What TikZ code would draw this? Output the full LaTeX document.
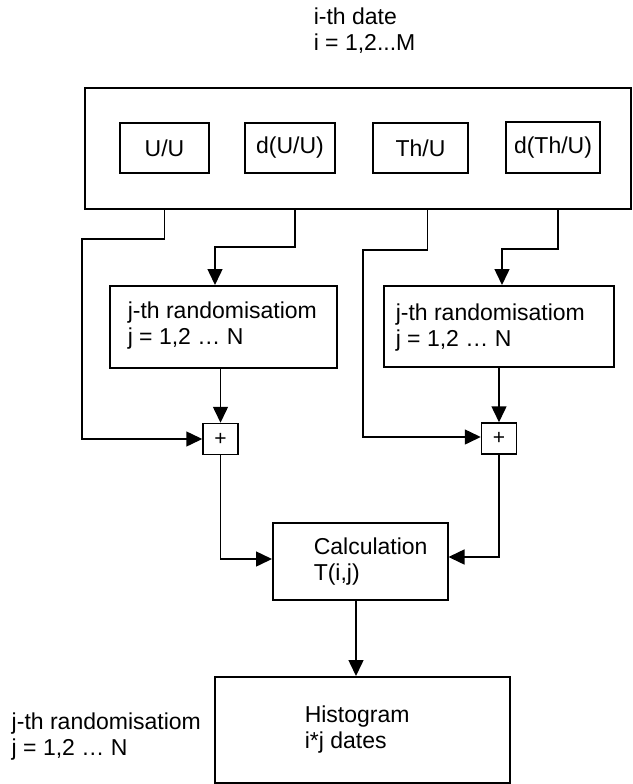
\documentclass[tikz,border=0pt]{standalone}
\usepackage{fontspec}
\setmainfont{Liberation Sans}
\usetikzlibrary{arrows.meta}
\begin{document}
\begin{tikzpicture}[x=1pt,y=-1pt,
  line width=1.5pt,
  box/.style={draw, line width=1.5pt, inner sep=0pt, anchor=north west},
  txt/.style={font=\fontsize{23}{26}\selectfont, align=left, inner sep=0pt, anchor=west},
  plusbox/.style={draw, line width=1.5pt, inner sep=0pt, minimum width=35pt, minimum height=31pt, font=\fontsize{21}{22}\selectfont},
  arr/.style={-{Triangle[length=16pt,width=15pt]}, line width=1.5pt}
]
\useasboundingbox (0,0) rectangle (632,784);
\fill[white] (0,0) rectangle (632,784);

% top label
\node[txt] (top) at (313,31) {i-th date\\i = 1,2...M};

% outer box with inner boxes
\node[box, minimum width=546pt, minimum height=121pt] (outer) at (84,87) {};
\node[box, minimum width=89pt, minimum height=50pt, anchor=center, font=\fontsize{23}{26}\selectfont] (uu) at (164.5,148) {U/U};
\node[box, minimum width=90pt, minimum height=50pt, anchor=center, font=\fontsize{23}{26}\selectfont] (duu) at (290,148) {d(U/U)};
\node[box, minimum width=95pt, minimum height=50pt, anchor=center, font=\fontsize{23}{26}\selectfont] (thu) at (420.5,148) {Th/U};
\node[box, minimum width=94pt, minimum height=51pt, anchor=center, font=\fontsize{23}{26}\selectfont] (dthu) at (553,147.5) {d(Th/U)};

% randomisation boxes
\node[box, minimum width=227pt, minimum height=82pt] (rand1) at (109,285) {};
\node[txt] (rand1t) at (127,326) {j-th randomisatiom\\j = 1,2 \dots\ N};
\node[box, minimum width=230pt, minimum height=81pt] (rand2) at (383,285) {};
\node[txt] (rand2t) at (395,328) {j-th randomisatiom\\j = 1,2 \dots\ N};

% plus boxes
\node[plusbox] (p1) at (220.5,439) {+};
\node[plusbox] (p2) at (499,438.5) {+};

% calculation
\node[box, minimum width=175pt, minimum height=77pt] (calc) at (272,522) {};
\node[txt] (calct) at (313,562) {Calculation\\T(i,j)};

% histogram
\node[box, minimum width=295pt, minimum height=106pt] (hist) at (214,676) {};
\node[txt] (histt) at (304,730) {Histogram\\i*j dates};

% side label
\node[txt] (side) at (11,737) {j-th randomisatiom\\j = 1,2 \dots\ N};

% connector waypoints
\coordinate (o1) at (164.5,208);
\coordinate (o2) at (295,208);
\coordinate (o3) at (427.5,208);
\coordinate (o4) at (558,208);

\draw[arr] (o1) -- (164.5,239) -- (82,239) -- (82,439) -- (p1.west);
\draw[arr] (o2) -- (295,247) -- (215,247) -- (215,285);
\draw[arr] (o3) -- (427.5,250) -- (363,250) -- (363,437) -- (p2.west |- 0,437);
\draw[arr] (o4) -- (558,249) -- (502,249) -- (502,285);

\draw[arr] (220.5,367) -- (p1.north);
\draw[arr] (499,366) -- (p2.north);

\draw[arr] (p1.south) -- (220.5,559) -- (calc.west |- 0,559);
\draw[arr] (p2.south) -- (499,557) -- (calc.east |- 0,557);

\draw[arr] (356,599) -- (356,676);
\end{tikzpicture}
\end{document}
